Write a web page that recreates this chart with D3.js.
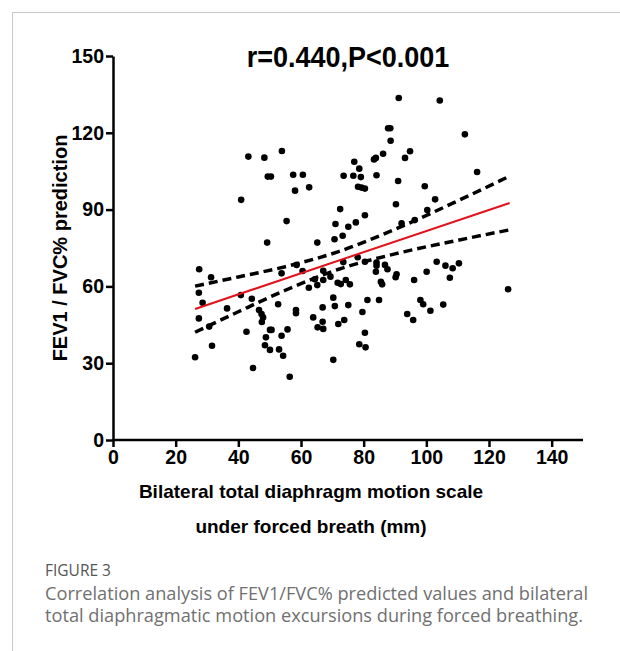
<!DOCTYPE html>
<html>
<head>
<script src="https://d3js.org/d3.v7.min.js"></script>
<style type="text/css">
  body {
    margin: 0;
    background: #fff;
  }
  svg text {
    font-family: 'Liberation Sans', Arial, sans-serif;
  }
  .caption {
    font-family: 'Open Sans', sans-serif !important;
  }
</style>
</head>
<body>
<script type="text/javascript">

// scatter points (x = motion in mm, y = FEV1/FVC% pred)
var motion = [43.2, 48.3, 53.9, 49.4, 50.4, 57.5, 60.6, 58.1, 62.6, 40.9, 55.4, 91.2, 104.3, 87.8, 88.5, 88.6,
  94.8, 93.2, 86.2, 83.9, 83.3, 77.0, 78.6, 73.6, 76.7, 79.1, 84.1, 78.2, 79.3, 80.4, 91.0, 99.5, 102.8, 90.3,
  72.5, 80.4, 77.5, 71.0, 75.1, 112.3, 116.2, 100.3, 92.1, 49.2, 65.2, 27.5, 31.3, 58.6, 53.8, 60.5, 27.4, 28.6,
  40.8, 44.3, 36.4, 46.6, 47.4, 47.9, 52.7, 58.4, 58.4, 62.5, 64.4, 65.2, 27.4, 30.7, 47.5, 63.9, 65.3, 42.6,
  50.1, 50.6, 55.7, 48.8, 53.8, 31.6, 48.5, 50.1, 53.0, 54.3, 26.2, 44.7, 56.4, 73.3, 70.7, 96.3, 67.1, 73.5,
  78.1, 80.4, 84.1, 84.1, 86.8, 87.6, 67.1, 69.4, 71.7, 72.7, 74.3, 75.6, 83.9, 85.5, 85.9, 90.5, 90.2, 96.1,
  100.1, 103.3, 70.3, 70.8, 75.1, 66.9, 81.2, 84.9, 79.6, 66.9, 67.1, 71.9, 73.8, 80.4, 78.6, 80.6, 70.3, 93.9,
  95.8, 98.1, 99.0, 101.3, 106.1, 108.4, 110.4, 107.5, 126.1, 105.4];
var fevRatio = [110.7, 110.3, 112.9, 102.9, 102.9, 103.6, 103.6, 97.4, 98.7, 93.8, 85.5, 133.6, 132.6, 121.8, 121.8, 116.9,
  112.8, 110.2, 111.8, 110.2, 109.6, 108.7, 106.0, 103.2, 103.2, 102.7, 103.4, 98.9, 98.6, 98.2, 101.2, 99.1, 94.0, 92.1,
  90.2, 87.8, 85.0, 84.4, 83.3, 119.4, 104.7, 89.8, 84.6, 77.1, 77.1, 66.7, 63.6, 68.4, 65.1, 66.0, 57.5, 53.6,
  56.6, 55.2, 51.4, 50.8, 49.2, 47.9, 53.0, 50.8, 49.5, 59.5, 62.8, 60.5, 47.5, 44.3, 46.1, 47.9, 44.0, 42.3,
  43.0, 43.0, 43.2, 40.1, 40.7, 36.8, 37.0, 35.2, 35.4, 32.9, 32.3, 28.1, 24.7, 79.8, 78.4, 85.9, 66.1, 69.5,
  71.4, 69.6, 69.3, 68.1, 68.4, 66.7, 62.5, 63.8, 61.4, 60.9, 62.5, 60.8, 65.7, 61.8, 60.8, 64.7, 63.6, 62.5,
  65.7, 69.6, 55.6, 52.3, 52.7, 51.8, 54.7, 54.7, 50.0, 46.2, 43.4, 45.3, 46.9, 41.9, 37.4, 36.2, 31.3, 49.2,
  46.9, 54.7, 53.0, 50.5, 68.1, 67.1, 69.0, 63.4, 58.9, 52.9];

// fitted line and 95% band
var fitX = [26.2, 126.6];
var fitY = [51.2, 92.6];
var bandX = [26.2, 40, 55, 72, 90, 110, 126.6];
var bandUpper = [60.1, 63.7, 67.7, 73.6, 82.3, 93.4, 103.1];
var bandLower = [42.1, 50.1, 58.5, 66.7, 72.7, 78.0, 82.1];

var xTicks = [0, 20, 40, 60, 80, 100, 120, 140];
var yTicks = [0, 30, 60, 90, 120, 150];

var title = "r=0.440,P<0.001";
var yLabel = "FEV1 / FVC% prediction";
var xLabel = ["Bilateral total diaphragm motion scale", "under forced breath (mm)"];
var figLabel = "FIGURE 3";
var caption = ["Correlation analysis of FEV1/FVC% predicted values and bilateral",
  "total diaphragmatic motion excursions during forced breathing."];

var W = 620, H = 651;
var svg = d3.select("body").append("svg")
  .attr("width", W)
  .attr("height", H);

// frame lines of the figure box
svg.append("line").attr("x1", 12.5).attr("x2", 12.5).attr("y1", 12).attr("y2", H)
  .attr("stroke", "#c8c8c8").attr("stroke-width", 1);
svg.append("line").attr("x1", 12).attr("x2", W).attr("y1", 12.5).attr("y2", 12.5)
  .attr("stroke", "#c8c8c8").attr("stroke-width", 1);

var x = d3.scaleLinear().domain([0, 150]).range([113, 583]);
var y = d3.scaleLinear().domain([0, 150]).range([440, 56]);

// axes
var xAxis = svg.append("g")
  .attr("transform", "translate(0," + y(0) + ")")
  .call(d3.axisBottom(x).tickValues(xTicks).tickSize(7).tickPadding(3).tickSizeOuter(0));
var yAxis = svg.append("g")
  .attr("transform", "translate(" + x(0) + ",0)")
  .call(d3.axisLeft(y).tickValues(yTicks).tickSize(7).tickPadding(2).tickSizeOuter(0));

[xAxis, yAxis].forEach(function(g) {
  g.select(".domain").attr("stroke", "#000").attr("stroke-width", 2.5);
  g.selectAll(".tick line").attr("stroke", "#000").attr("stroke-width", 2.5);
  g.selectAll(".tick text")
    .attr("fill", "#000")
    .attr("font-size", 19.5)
    .attr("font-weight", "bold")
    .style("font-family", "'Liberation Sans', Arial, sans-serif");
});
// x axis line runs a bit past the last tick
xAxis.select(".domain").attr("d", "M" + x(0) + ",0H" + x(150));

// points
svg.append("g").selectAll("circle")
  .data(motion)
  .enter().append("circle")
  .attr("cx", function(d) { return x(d); })
  .attr("cy", function(d, i) { return y(fevRatio[i]); })
  .attr("r", 3.3)
  .attr("fill", "#000");

// confidence band (dashed)
var bandLine = d3.line()
  .x(function(d) { return x(d[0]); })
  .y(function(d) { return y(d[1]); })
  .curve(d3.curveMonotoneX);

[bandUpper, bandLower].forEach(function(vals) {
  svg.append("path")
    .datum(bandX.map(function(v, i) { return [v, vals[i]]; }))
    .attr("d", bandLine)
    .attr("fill", "none")
    .attr("stroke", "#000")
    .attr("stroke-width", 3.5)
    .attr("stroke-dasharray", "9,5");
});

// regression line
svg.append("path")
  .datum(fitX.map(function(v, i) { return [v, fitY[i]]; }))
  .attr("d", bandLine)
  .attr("fill", "none")
  .attr("stroke", "#e3111b")
  .attr("stroke-width", 2);

// title and labels
svg.append("text")
  .attr("transform", "translate(348,67) scale(1,1.08)")
  .attr("text-anchor", "middle")
  .attr("font-size", 27)
  .attr("font-weight", "bold")
  .text(title);

svg.append("text")
  .attr("transform", "translate(67,248) rotate(-90)")
  .attr("text-anchor", "middle")
  .attr("font-size", 20)
  .attr("font-weight", "bold")
  .text(yLabel);

svg.selectAll(".xlab")
  .data(xLabel)
  .enter().append("text")
  .attr("class", "xlab")
  .attr("x", 311)
  .attr("y", function(d, i) { return 498 + i * 35; })
  .attr("text-anchor", "middle")
  .attr("font-size", 19)
  .attr("font-weight", "bold")
  .text(function(d) { return d; });

// caption below the chart
svg.append("text")
  .attr("class", "caption")
  .attr("x", 45).attr("y", 576)
  .attr("font-size", 15.5)
  .attr("fill", "#555")
  .text(figLabel);

svg.selectAll(".capline")
  .data(caption)
  .enter().append("text")
  .attr("class", "caption capline")
  .attr("x", 45)
  .attr("y", function(d, i) { return 600 + i * 22; })
  .attr("font-size", 18.2)
  .attr("fill", "#707070")
  .text(function(d) { return d; });

</script>
</body>
</html>
